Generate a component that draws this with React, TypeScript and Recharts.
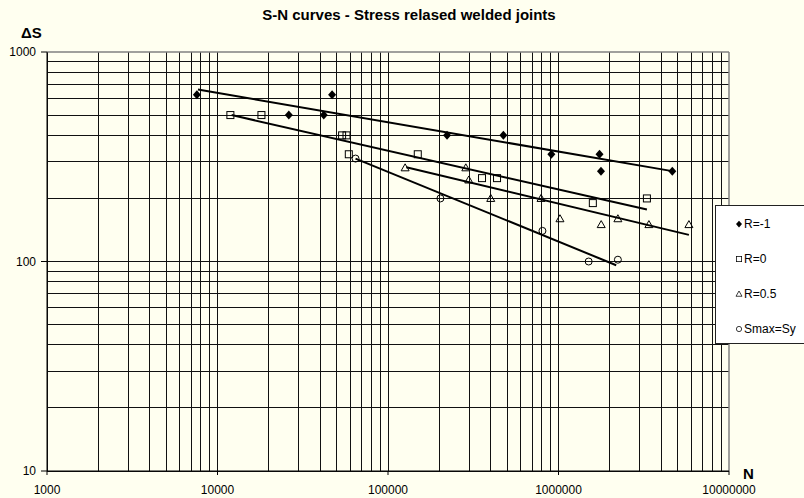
import React from 'react';
import { ComposedChart, Scatter, XAxis, YAxis, ReferenceLine } from 'recharts';

// Axis ticks (log decades)
const cycleTicks = [1000, 10000, 100000, 1000000, 10000000];
const stressTicks = [10, 100, 1000];

// Test results: number of cycles N and stress range ΔS
const r1Cycles = [7570, 26200, 42000, 47000, 222000, 475000, 908000, 1740000, 1775000, 4650000];
const r1Stress = [625, 500, 500, 625, 400, 400, 325, 325, 270, 270];

const r0Cycles = [11900, 18100, 53800, 57100, 58900, 149500, 356000, 436000, 1590000, 3300000];
const r0Stress = [500, 500, 400, 400, 325, 325, 250, 250, 190, 200];

const r05Cycles = [126000, 286000, 297700, 400500, 790000, 1020000, 1780000, 2230000, 3390000, 5820000];
const r05Stress = [280, 280, 245, 200, 200, 160, 150, 160, 150, 150];

const syCycles = [64500, 203000, 805000, 1503000, 2230000];
const syStress = [310, 200, 140, 100, 102];

// Power-law trend lines (end points)
const r1FitCycles = [7680, 4650000];
const r1FitStress = [662, 270];
const r0FitCycles = [12100, 3300000];
const r0FitStress = [500, 177];
const r05FitCycles = [128000, 5820000];
const r05FitStress = [282, 134];
const syFitCycles = [64500, 2180000];
const syFitStress = [310, 96];

const legendNames = ['R=-1', 'R=0', 'R=0.5', 'Smax=Sy'];

const zip = (n: number[], s: number[]) => n.map((v, i) => ({ n: v, s: s[i] }));

// full log grid: 1..9 in each decade
const steps = [1, 2, 3, 4, 5, 6, 7, 8, 9];
const cycleGrid = [1000, 10000, 100000, 1000000].flatMap((d) => steps.map((k) => k * d));
const stressGrid = [10, 100].flatMap((d) => steps.map((k) => k * d));

const FONT = 'Arial, "Liberation Sans", sans-serif';

const Diamond = (p: any) => (
  <path d={`M${p.cx},${p.cy - 4.5}L${p.cx + 4},${p.cy}L${p.cx},${p.cy + 4.5}L${p.cx - 4},${p.cy}Z`} fill="#000" />
);
const Square = (p: any) => (
  <rect x={p.cx - 3.5} y={p.cy - 3.5} width={7} height={7} fill="none" stroke="#000" strokeWidth={1} />
);
const Triangle = (p: any) => (
  <path d={`M${p.cx},${p.cy - 4}L${p.cx + 4},${p.cy + 3}L${p.cx - 4},${p.cy + 3}Z`} fill="none" stroke="#000" strokeWidth={1} />
);
const Ring = (p: any) => <circle cx={p.cx} cy={p.cy} r={3.5} fill="none" stroke="#000" strokeWidth={1} />;
const NoDot = () => <g />;

const markers = [Diamond, Square, Triangle, Ring];

const LegendBox = () => (
  <div
    style={{
      position: 'absolute',
      left: 715,
      top: 205,
      width: 100,
      height: 139,
      background: '#fff',
      border: '1px solid #222',
      boxSizing: 'border-box',
      fontFamily: FONT,
      fontSize: 12,
      color: '#000',
    }}
  >
    {legendNames.map((name, i) => {
      const M = markers[i];
      return (
        <div key={name} style={{ height: 35, display: 'flex', alignItems: 'center', paddingLeft: 19 }}>
          <svg width={8} height={8} style={{ marginRight: 1 }}>
            <g transform="translate(4,4) scale(0.75) translate(-4,-4)">
              <M cx={4} cy={4} />
            </g>
          </svg>
          <span>{name}</span>
        </div>
      );
    })}
  </div>
);

export default function App() {
  return (
    <div style={{ position: 'relative', width: 804, height: 498, overflow: 'hidden', background: '#fffff0' }}>
      <style>{`body{margin:0;background:#fffff0;overflow:hidden}`}</style>
      <ComposedChart width={804} height={498} margin={{ top: 52, right: 75, bottom: 0, left: 0 }}>
        <XAxis
          dataKey="n"
          type="number"
          scale="log"
          domain={[1000, 10000000]}
          ticks={cycleTicks}
          allowDataOverflow
          height={27}
          tickSize={4}
          tickMargin={10}
          stroke="#000"
          tick={{ fill: '#000', fontSize: 12, fontFamily: FONT }}
        />
        <YAxis
          dataKey="s"
          type="number"
          scale="log"
          domain={[10, 1000]}
          ticks={stressTicks}
          allowDataOverflow
          width={47}
          tickSize={6}
          tickMargin={5}
          stroke="#000"
          tick={{ fill: '#000', fontSize: 12, fontFamily: FONT }}
        />
        {cycleGrid.map((v) => (
          <ReferenceLine key={'x' + v} x={v} stroke="#111" strokeWidth={1} shapeRendering="crispEdges" />
        ))}
        {stressGrid.map((v) => (
          <ReferenceLine key={'y' + v} y={v} stroke="#111" strokeWidth={1} shapeRendering="crispEdges" />
        ))}
        <ReferenceLine y={1000} stroke="#808080" strokeWidth={1.5} />
        <ReferenceLine x={10000000} stroke="#808080" strokeWidth={1.5} />

        <Scatter name="R=-1" data={zip(r1Cycles, r1Stress)} shape={Diamond} isAnimationActive={false} />
        <Scatter name="R=0" data={zip(r0Cycles, r0Stress)} shape={Square} isAnimationActive={false} />
        <Scatter name="R=0.5" data={zip(r05Cycles, r05Stress)} shape={Triangle} isAnimationActive={false} />
        <Scatter name="Smax=Sy" data={zip(syCycles, syStress)} shape={Ring} isAnimationActive={false} />

        <Scatter data={zip(r1FitCycles, r1FitStress)} line={{ stroke: '#000', strokeWidth: 2 }} shape={NoDot} legendType="none" isAnimationActive={false} />
        <Scatter data={zip(r0FitCycles, r0FitStress)} line={{ stroke: '#000', strokeWidth: 2 }} shape={NoDot} legendType="none" isAnimationActive={false} />
        <Scatter data={zip(r05FitCycles, r05FitStress)} line={{ stroke: '#000', strokeWidth: 2 }} shape={NoDot} legendType="none" isAnimationActive={false} />
        <Scatter data={zip(syFitCycles, syFitStress)} line={{ stroke: '#000', strokeWidth: 2 }} shape={NoDot} legendType="none" isAnimationActive={false} />

        <text x={409} y={19.5} textAnchor="middle" fontFamily={FONT} fontSize={15} fontWeight="bold" fill="#000">
          S-N curves - Stress relased welded joints
        </text>
        <text x={21} y={38} fontFamily={FONT} fontSize={15} fontWeight="bold" fill="#000">
          ΔS
        </text>
        <text x={743} y={479} fontFamily={FONT} fontSize={15} fontWeight="bold" fill="#000">
          N
        </text>
      </ComposedChart>
      <LegendBox />
    </div>
  );
}
